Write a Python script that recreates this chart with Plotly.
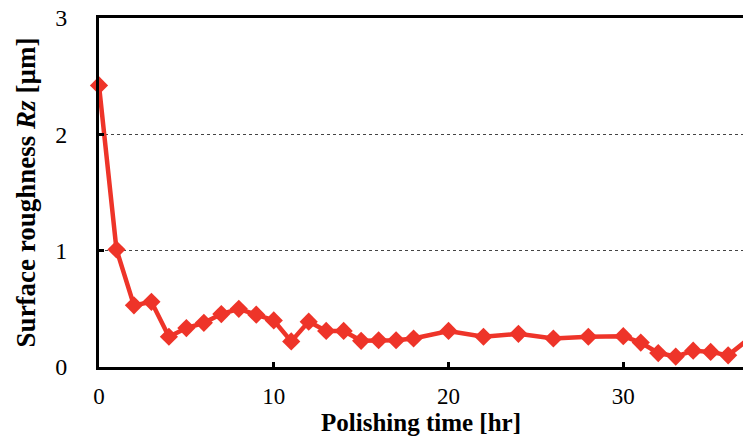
import plotly.graph_objects as go

time_hr = [0, 1, 2, 3, 4, 5, 6, 7, 8, 9, 10, 11, 12, 13, 14, 15, 16, 17, 18,
           20, 22, 24, 26, 28, 30, 31, 32, 33, 34, 35, 36, 37]
rz_um = [2.42, 1.01, 0.53, 0.56, 0.26, 0.335, 0.38, 0.455, 0.50, 0.45, 0.40, 0.22,
         0.39, 0.31, 0.31, 0.225, 0.23, 0.23, 0.245, 0.31, 0.26, 0.285, 0.245, 0.26,
         0.265, 0.21, 0.12, 0.09, 0.14, 0.13, 0.10, 0.22]
x_ticks = [0, 10, 20, 30]
y_ticks = [0, 1, 2, 3]

red = "#EE3429"
fig = go.Figure()
fig.add_trace(go.Scatter(
    x=time_hr, y=rz_um, mode="lines+markers",
    line=dict(color=red, width=4.5),
    marker=dict(symbol="diamond", size=14, color=red),
    cliponaxis=False, showlegend=False,
))

font_family = "Liberation Serif"
fig.update_layout(
    width=743, height=441,
    margin=dict(l=99, r=0, t=18, b=74),
    paper_bgcolor="white", plot_bgcolor="white",
    font=dict(family=font_family, color="black", size=23),
    xaxis=dict(
        range=[0, 36.85], tickvals=x_ticks, ticks="inside", ticklen=5, tickwidth=3,
        tickcolor="black", showline=True, linecolor="black", linewidth=3, mirror=True,
        showgrid=False, zeroline=False, ticklabelstandoff=6,
        tickfont=dict(size=23),
        title=dict(text="<b>Polishing time [hr]</b>", font=dict(size=25), standoff=0),
    ),
    yaxis=dict(
        range=[0, 3], tickvals=y_ticks, ticks="inside", ticklen=5, tickwidth=3,
        tickcolor="black", showline=True, linecolor="black", linewidth=3,
        showgrid=True, gridcolor="#444444", griddash="dot", gridwidth=1,
        zeroline=False, tickfont=dict(size=24),
        ticktext=[f"{v}\u00a0\u00a0\u00a0\u00a0" for v in y_ticks],
        title=dict(text="<b>Surface roughness <i>Rz</i> [µm]</b>", font=dict(size=27), standoff=12),
    ),
)
fig.write_html(
    "out.html",
    config={"displayModeBar": False},
    post_script="document.body.style.margin='0px';document.body.style.overflow='hidden';",
)
